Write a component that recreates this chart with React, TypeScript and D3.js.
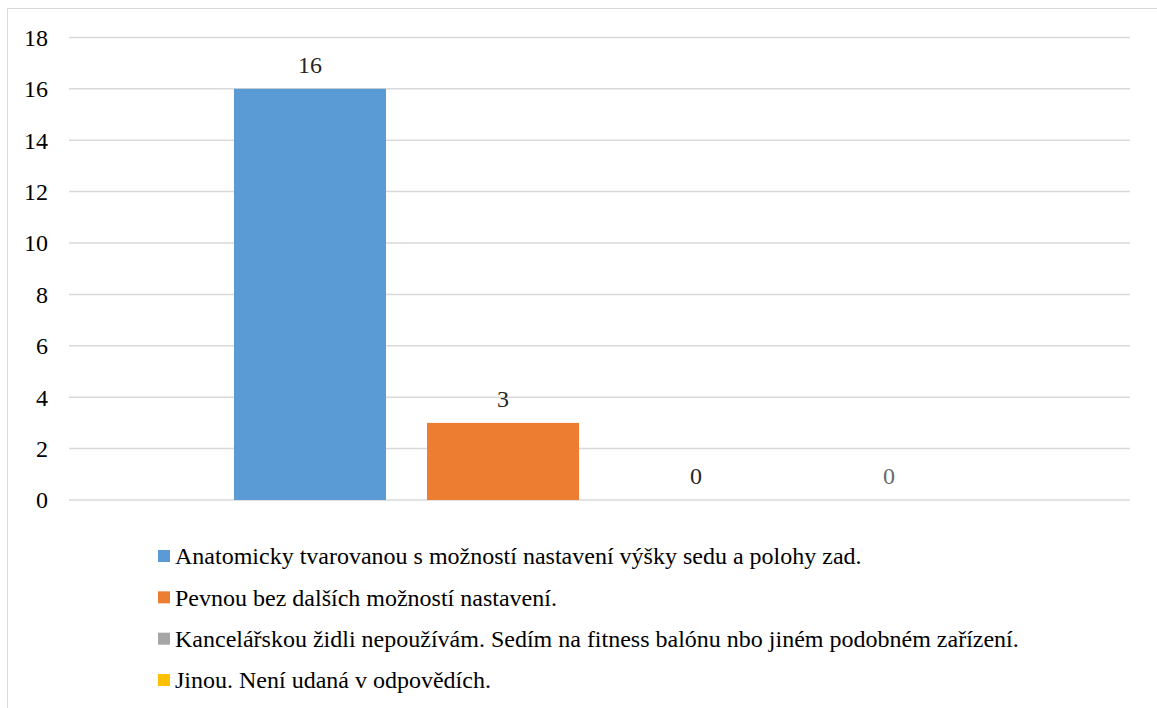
import React from "react";
import * as d3 from "d3";

// Survey answers: which office chair the respondent uses
const seriesNames = [
  "Anatomicky tvarovanou s možností nastavení výšky sedu a polohy zad.",
  "Pevnou bez dalších možností nastavení.",
  "Kancelářskou židli nepoužívám. Sedím na fitness balónu nbo jiném podobném zařízení.",
  "Jinou. Není udaná v odpovědích.",
];
const seriesValues = [16, 3, 0, 0];
const seriesColors = ["#5B9BD5", "#ED7D31", "#A5A5A5", "#FFC000"];
const labelColors = ["#262626", "#262626", "#262626", "#6b6b6b"];
const yTicks = [0, 2, 4, 6, 8, 10, 12, 14, 16, 18];

const W = 1157;
const H = 708;
const plot = { left: 69, right: 1130, top: 37.4, bottom: 500 };
const font = '"Times New Roman", Tinos, "Liberation Serif", "Noto Serif", FreeSerif, Times, serif';
const fontSize = 24;

export default function App() {
  const y = d3.scaleLinear().domain([0, 18]).range([plot.bottom, plot.top]);

  // One category group holding the four series bars
  const groupWidth = 731;
  const groupStart = (plot.left + plot.right) / 2 - groupWidth / 2;
  const x = d3
    .scaleBand<number>()
    .domain(d3.range(seriesValues.length))
    .range([groupStart, groupStart + groupWidth])
    .paddingInner(41 / 193)
    .paddingOuter(0);

  const legendX = 158;
  const legendY = d3
    .scalePoint<number>()
    .domain(d3.range(seriesNames.length))
    .range([556, 680]);

  return (
    <svg
      width={W}
      height={H}
      style={{ position: "absolute", left: 0, top: 0, background: "#fff" }}
    >
      <rect x={7.5} y={8.5} width={W + 20} height={H + 20} fill="#fff" stroke="#d9d9d9" strokeWidth={1} />

      <g style={{ fontFamily: font }}>
        {yTicks.map((t) => (
          <g key={t}>
            <line x1={plot.left} x2={plot.right} y1={y(t)} y2={y(t)} stroke="#d9d9d9" strokeWidth={1.5} />
            <text x={48} y={y(t)} dy="0.35em" textAnchor="end" fontSize={fontSize} fill="#000">
              {t}
            </text>
          </g>
        ))}

        {seriesValues.map((v, i) => (
          <g key={i}>
            <rect
              x={x(i)}
              y={y(v)}
              width={x.bandwidth()}
              height={plot.bottom - y(v)}
              fill={seriesColors[i]}
            />
            <text
              x={(x(i) as number) + x.bandwidth() / 2}
              y={y(v) - 24}
              dy="0.35em"
              textAnchor="middle"
              fontSize={fontSize}
              fill={labelColors[i]}
            >
              {v}
            </text>
          </g>
        ))}

        {seriesNames.map((name, i) => (
          <g key={name}>
            <rect x={legendX} y={(legendY(i) as number) - 6} width={12} height={12} fill={seriesColors[i]} />
            <text x={legendX + 17} y={legendY(i)} dy="0.35em" fontSize={fontSize} fill="#000">
              {name}
            </text>
          </g>
        ))}
      </g>
    </svg>
  );
}
